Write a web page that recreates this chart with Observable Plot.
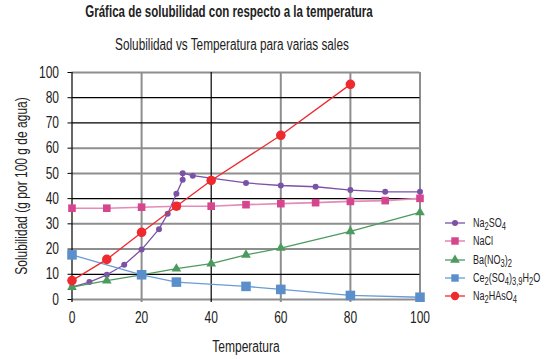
<!DOCTYPE html>
<html>
<head>
<meta charset="utf-8">
<script src="https://cdn.jsdelivr.net/npm/d3@7"></script>
<script src="https://cdn.jsdelivr.net/npm/@observablehq/plot@0.6"></script>
<style>
  body { margin: 0; background: #fff; }
  #wrap { position: relative; width: 552px; height: 359px; overflow: hidden; font-family: "Liberation Sans", Arial, sans-serif; color: #222; }
  .ttl { position: absolute; left: 0; width: 462px; text-align: center; line-height: 1; white-space: nowrap; transform-origin: 231px 0; }
  #title { top: 4px; font-size: 16px; font-weight: bold; transform: scaleX(0.72); left: -2px; }
  #subtitle { top: 37px; font-size: 16px; transform: scaleX(0.735); left: 1px; }
  #chart { position: absolute; left: 0; top: 0; }
  #legend { position: absolute; left: 444px; top: 214px; font-size: 12.5px; }
  #legend .row { display: flex; align-items: center; height: 18.25px; white-space: nowrap; }
  #legend svg { margin-right: 7px; flex: none; }
  #legend span { display: inline-block; transform: scaleX(0.72); transform-origin: 0 50%; }
  #legend sub { font-size: 10.5px; vertical-align: -3px; line-height: 0; }
</style>
</head>
<body>
<div id="wrap">
  <div id="title" class="ttl">Gráfica de solubilidad con respecto a la temperatura</div>
  <div id="subtitle" class="ttl">Solubilidad vs Temperatura para varias sales</div>
  <div id="chart"></div>
  <div id="legend"></div>
</div>
<script>
// ---- data ----
const xTicks = [0, 20, 40, 60, 80, 100];
const yTicks = [0, 10, 20, 30, 40, 50, 60, 70, 80, 90];
const yTickLabels = ["0", "10", "20", "30", "40", "50", "60", "70", "80", "100"];
const darkGridY = [10, 40, 70, 80];
const darkGridX = [0, 40];

const na2so4T = [0, 5, 10, 15, 20, 25, 27.5, 30, 31.8, 31.8, 34.7, 50, 60, 70, 80, 90, 100];
const na2so4S = [4.9, 6.9, 9.8, 13.8, 19.8, 27.9, 34.0, 41.9, 47.5, 50.1, 49.1, 46.2, 45.2, 44.7, 43.4, 42.7, 42.7];

const naclT = [0, 10, 20, 30, 40, 50, 60, 70, 80, 90, 100];
const naclS = [36.2, 36.2, 36.6, 37.0, 37.0, 37.6, 38.0, 38.4, 38.9, 39.2, 40.1];

const bano3T = [0, 10, 20, 30, 40, 50, 60, 80, 100];
const bano3S = [4.9, 7.5, 9.8, 12.2, 14.2, 17.7, 20.4, 27.0, 34.5];

const ceT = [0, 20, 30, 50, 60, 80, 100];
const ceS = [17.7, 9.8, 6.9, 5.2, 4.0, 1.6, 0.9];

const na2hasT = [0, 10, 20, 30, 40, 60, 80];
const na2hasS = [7.5, 15.9, 26.6, 37.0, 47.2, 65.1, 85.3];

const seriesNames = ["Na<sub>2</sub>SO<sub>4</sub>", "NaCl", "Ba(NO<sub>3</sub>)<sub>2</sub>", "Ce<sub>2</sub>(SO<sub>4</sub>)<sub>3,9</sub>H<sub>2</sub>O", "Na<sub>2</sub>HAsO<sub>4</sub>"];

// ---- styles ----
const styles = [
  {line: "#7a52a6", fill: "#7a52a6", symbol: "circle", r: 3, lw: 1.3},
  {line: "#e58bb8", fill: "#d6468f", symbol: "square", r: 4.3, lw: 1.6},
  {line: "#4c9a5e", fill: "#4c9a5e", symbol: "triangle", r: 3.6, lw: 1.3},
  {line: "#6a9bd4", fill: "#5b8fcc", symbol: "square", r: 5.4, lw: 1.3},
  {line: "#ee2a2e", fill: "#ee2a2e", symbol: "circle", r: 4.8, lw: 1.3}
];
const seriesData = [[na2so4T, na2so4S], [naclT, naclS], [bano3T, bano3S], [ceT, ceS], [na2hasT, na2hasS]]
  .map(([t, s]) => t.map((x, i) => ({t: x, s: s[i]})));

const font = "'Liberation Sans', Arial, sans-serif";
const squeeze = 0.75;

const seriesMarks = seriesData.flatMap((d, i) => [
  Plot.line(d, {x: "t", y: "s", stroke: styles[i].line, strokeWidth: styles[i].lw}),
  Plot.dot(d, {x: "t", y: "s", fill: styles[i].fill, symbol: styles[i].symbol, r: styles[i].r, stroke: "none"})
]);

const chart = Plot.plot({
  width: 552,
  height: 359,
  marginLeft: 71.5,
  marginRight: 132.5,
  marginTop: 72,
  marginBottom: 60,
  x: {domain: [0, 100]},
  y: {domain: [0, 90]},
  style: {fontFamily: font, fontSize: "16px", color: "#222", background: "transparent"},
  marks: [
    Plot.ruleY(yTicks.filter(d => !darkGridY.includes(d)), {stroke: "#8e8e8e", strokeWidth: 2}),
    Plot.ruleX(xTicks.filter(d => !darkGridX.includes(d)), {stroke: "#8e8e8e", strokeWidth: 2, y1: -1.2, y2: 90}),
    Plot.ruleY(darkGridY, {stroke: "#000", strokeWidth: 1.2}),
    Plot.ruleX(darkGridX, {stroke: "#000", strokeWidth: 1.2, y1: -1.2, y2: 90}),
    Plot.axisY({ticks: yTicks, tickFormat: d => yTickLabels[yTicks.indexOf(d)], tickSize: 4, tickPadding: 9, stroke: "#000",
      label: "Solubilidad (g por 100 g de agua)", labelAnchor: "center", labelArrow: "none", labelOffset: 56}),
    Plot.axisX({ticks: xTicks, tickSize: 0, tickPadding: 12,
      label: "Temperatura", labelAnchor: "center", labelArrow: "none", labelOffset: 52}),
    ...seriesMarks
  ]
});
document.getElementById("chart").appendChild(chart);

// condensed look: compress every text horizontally
chart.querySelectorAll("text").forEach(t => {
  const L = t.getComputedTextLength();
  if (L > 0) {
    t.setAttribute("textLength", (L * squeeze).toFixed(2));
    t.setAttribute("lengthAdjust", "spacingAndGlyphs");
  }
});

// ---- legend ----
const symPath = (sym, r) => {
  const s = {circle: d3.symbolCircle, square: d3.symbolSquare, triangle: d3.symbolTriangle}[sym];
  return d3.symbol(s, Math.PI * r * r)();
};
const legend = document.getElementById("legend");
seriesNames.forEach((name, i) => {
  const st = styles[i];
  const rr = Math.min(st.r, 4.2);
  const row = document.createElement("div");
  row.className = "row";
  row.innerHTML = `<svg width="22" height="12"><line x1="1" x2="21" y1="6" y2="6" stroke="${st.line}" stroke-width="${st.lw}"/>` +
    `<path transform="translate(11,6)" d="${symPath(st.symbol, rr)}" fill="${st.fill}"/></svg><span>${name}</span>`;
  legend.appendChild(row);
});
</script>
</body>
</html>
